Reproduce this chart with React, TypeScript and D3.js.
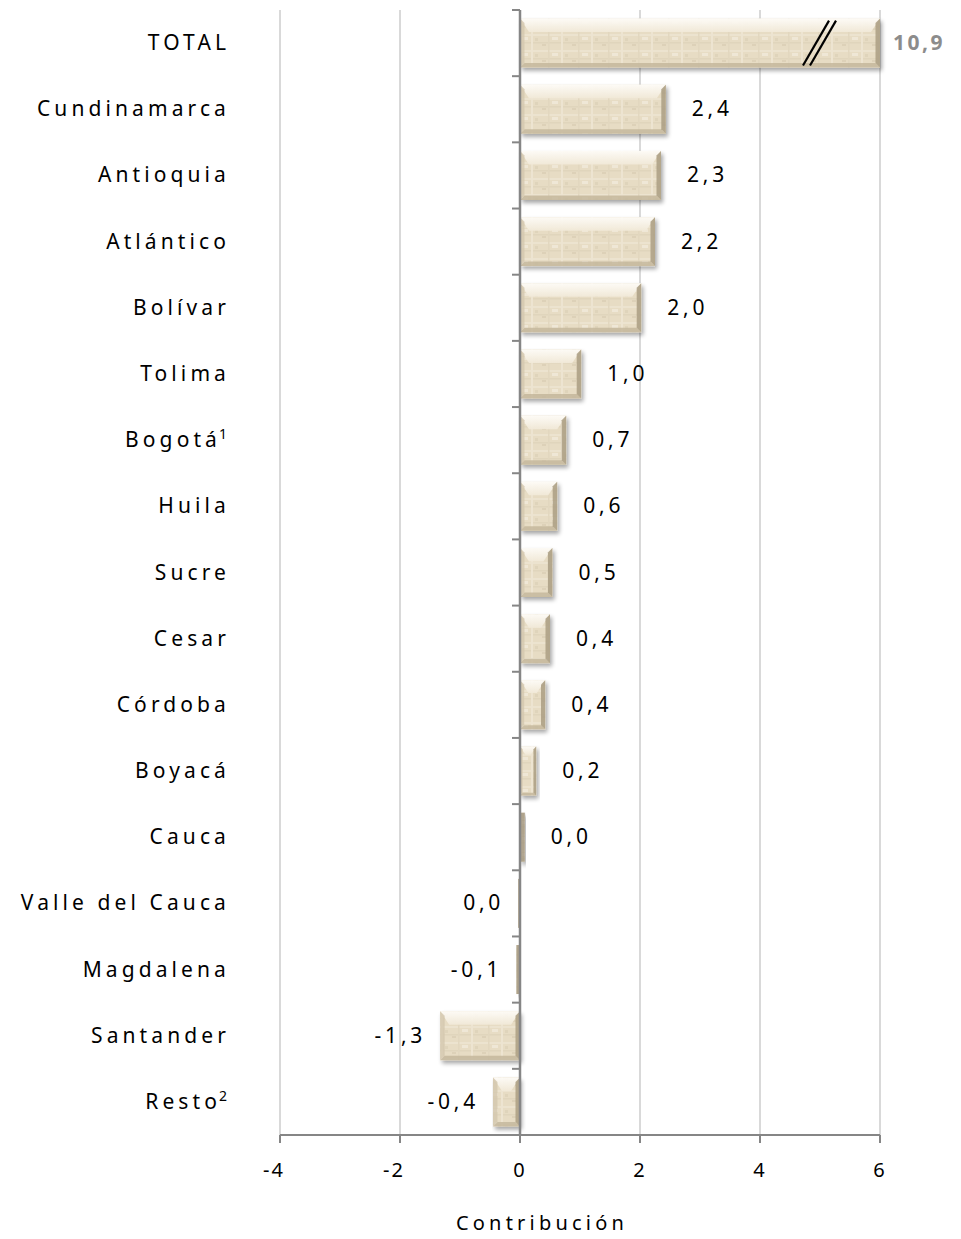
import React from "react";
import * as d3 from "d3";

const categories = ["TOTAL","Cundinamarca","Antioquia","Atlántico","Bolívar","Tolima","Bogotá","Huila","Sucre","Cesar","Córdoba","Boyacá","Cauca","Valle del Cauca","Magdalena","Santander","Resto"];
const superscripts = ["","","","","","","1","","","","","","","","","","2"];
const values = [10.9,2.43,2.35,2.25,2.02,1.02,0.77,0.62,0.54,0.5,0.42,0.27,0.08,-0.03,-0.06,-1.33,-0.45];
const valueLabels = ["10,9","2,4","2,3","2,2","2,0","1,0","0,7","0,6","0,5","0,4","0,4","0,2","0,0","0,0","-0,1","-1,3","-0,4"];
const xTicks = [-4,-2,0,2,4,6];
const xTitle = "Contribución";

const W = 961, H = 1239;
const FONT = "'Noto Sans', 'Open Sans', sans-serif";

export default function App() {
  const x = d3.scaleLinear().domain([-4, 6]).range([280, 880]);
  const y = d3.scaleBand<string>().domain(categories).range([10, 1135]).paddingInner(0.26).paddingOuter(0.13);
  const bw = y.bandwidth();
  const x0 = x(0);
  const xmax = x(6);

  const bars = categories.map((c, i) => {
    const v = values[i];
    const left = Math.min(x0, x(v));
    const right = v >= 0 ? Math.min(x(v), xmax) : x0;
    const w = Math.max(right - left, 2);
    const top = y(c)!;
    return { c, i, v, left, w, top };
  });

  return (
    <svg width={W} height={H} style={{ position: "absolute", left: 0, top: 0, background: "#fff" }} fontFamily={FONT}>
      <defs>
        <pattern id="tex" width="30" height="16" patternUnits="userSpaceOnUse">
          <rect width="30" height="16" fill="#e7dcc4" />
          <rect x="0" y="2" width="30" height="2" fill="#ece3cf" />
          <rect x="0" y="10" width="30" height="1.5" fill="#e0d5bc" />
          <rect x="8" y="0" width="1.5" height="16" fill="#e2d7bf" />
          <rect x="21" y="0" width="2" height="16" fill="#ede4d1" />
          <rect x="12" y="5" width="6" height="3" fill="#efe7d6" />
          <rect x="2" y="12" width="4" height="2" fill="#ddd1b8" />
          <rect x="25" y="6" width="3" height="3" fill="#dfd4bb" />
        </pattern>
        <linearGradient id="topBevel" x1="0" y1="0" x2="0" y2="1">
          <stop offset="0" stopColor="#fefcf8" />
          <stop offset="1" stopColor="#f1e9d8" />
        </linearGradient>
        <filter id="shadow" x="-10%" y="-10%" width="130%" height="140%">
          <feGaussianBlur in="SourceAlpha" stdDeviation="2" />
          <feOffset dx="2" dy="3" result="ob" />
          <feComponentTransfer><feFuncA type="linear" slope="0.35" /></feComponentTransfer>
          <feMerge><feMergeNode /><feMergeNode in="SourceGraphic" /></feMerge>
        </filter>
      </defs>

      {/* gridlines */}
      {xTicks.filter(t => t !== 0).map(t => (
        <line key={"g" + t} x1={x(t)} x2={x(t)} y1={10} y2={1135} stroke="#d9d9d9" strokeWidth={2} />
      ))}

      {/* bars */}
      {bars.map(b => {
        const bv = Math.min(9, b.w / 3, bw / 3);
        const L = b.left, R = b.left + b.w, T = b.top, B = b.top + bw;
        return (
          <g key={b.c} filter="url(#shadow)">
            <rect x={L} y={T} width={b.w} height={bw} fill="url(#tex)" />
            {b.w > 6 && (
              <>
                <polygon points={`${L},${T} ${R},${T} ${R - bv},${T + bv * 1.5} ${L + bv},${T + bv * 1.5}`} fill="url(#topBevel)" opacity={0.95} />
                <polygon points={`${L},${B} ${R},${B} ${R - bv / 2},${B - bv / 2} ${L + bv / 2},${B - bv / 2}`} fill="#c4b79c" opacity={0.85} />
                <polygon points={`${R},${T} ${R},${B} ${R - bv / 2},${B - bv / 2} ${R - bv / 2},${T + bv / 2}`} fill="#aa9d82" opacity={0.85} />
                <polygon points={`${L},${T} ${L},${B} ${L + bv / 2},${B - bv / 2} ${L + bv / 2},${T + bv / 2}`} fill="#d3c7ae" opacity={0.8} />
              </>
            )}
            {b.w <= 6 && <rect x={L} y={T} width={b.w} height={bw} fill="#9c907a" opacity={0.75} />}
          </g>
        );
      })}

      {/* break marks on TOTAL */}
      {(() => {
        const T = y(categories[0])!;
        const B = T + bw;
        const xb = x(4.95);
        return (
          <g stroke="#000" strokeWidth={2.2}>
            <line x1={xb - 14} y1={B - 2} x2={xb + 12} y2={T + 2} />
            <line x1={xb - 7} y1={B - 2} x2={xb + 19} y2={T + 2} />
          </g>
        );
      })()}

      {/* y axis */}
      <line x1={x0} x2={x0} y1={10} y2={1135} stroke="#868686" strokeWidth={2.5} />
      {d3.range(categories.length + 1).map(k => (
        <line key={"yt" + k} x1={x0 - 8} x2={x0} y1={10 + k * (1125 / categories.length)} y2={10 + k * (1125 / categories.length)} stroke="#868686" strokeWidth={2} />
      ))}

      {/* x axis */}
      <line x1={280} x2={880} y1={1135} y2={1135} stroke="#868686" strokeWidth={2} />
      {xTicks.map(t => (
        <g key={"xt" + t}>
          <line x1={x(t)} x2={x(t)} y1={1135} y2={1143} stroke="#868686" strokeWidth={2} />
          <text x={x(t) - (t < 0 ? 6 : 0)} y={1177} textAnchor="middle" fontSize={20} letterSpacing={2} fill="#000">{t}</text>
        </g>
      ))}
      <text x={542} y={1230} textAnchor="middle" fontSize={20} letterSpacing={4.2} fill="#000">{xTitle}</text>

      {/* category labels */}
      {categories.map((c, i) => {
        const cy = y(c)! + bw / 2 + 7;
        if (superscripts[i]) {
          return (
            <g key={"c" + c}>
              <text x={221} y={cy} textAnchor="end" fontSize={21} letterSpacing={4.1} fill="#000">{c}</text>
              <text x={219} y={cy - 8} fontSize={14} fill="#000">{superscripts[i]}</text>
            </g>
          );
        }
        return (
          <text key={"c" + c} x={230} y={cy} textAnchor="end" fontSize={21} letterSpacing={4.1} fill="#000">{c}</text>
        );
      })}

      {/* value labels */}
      {bars.map(b => {
        const cy = b.top + bw / 2 + 7;
        if (b.i === 0) {
          return <text key={"v" + b.c} x={893} y={cy} fontSize={21} fontWeight="bold" letterSpacing={2.5} fill="#8c8c8c">{valueLabels[b.i]}</text>;
        }
        if (b.v >= 0) {
          return <text key={"v" + b.c} x={Math.max(x(b.v) + 26, x0 + 15)} y={cy} fontSize={21} letterSpacing={3.8} fill="#000">{valueLabels[b.i]}</text>;
        }
        return <text key={"v" + b.c} x={Math.min(x(b.v) - 14, x0 - 5)} y={cy} textAnchor="end" fontSize={21} letterSpacing={3.8} fill="#000">{valueLabels[b.i]}</text>;
      })}
    </svg>
  );
}
